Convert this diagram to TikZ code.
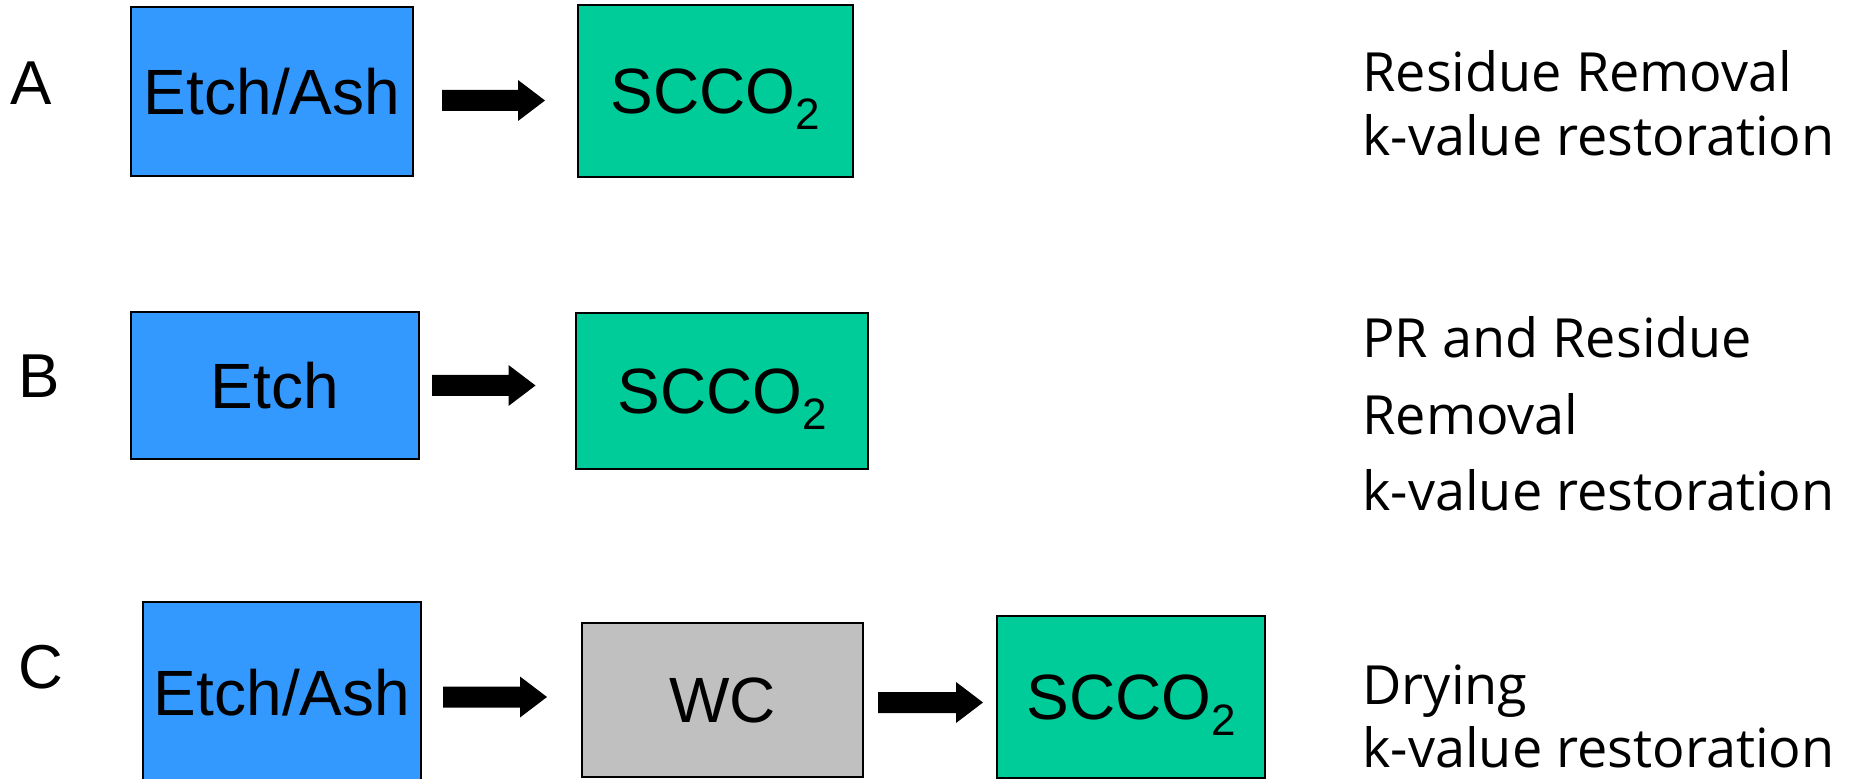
\documentclass[tikz,border=0pt]{standalone}
\usepackage{fontspec}
\setmainfont{Liberation Sans}
\newfontfamily\notefont{Open Sans}
\usetikzlibrary{calc}
\definecolor{etchblue}{HTML}{3399FF}
\definecolor{scgreen}{HTML}{00CC99}
\definecolor{wcgray}{HTML}{C0C0C0}
\newcommand\subtwo{\raisebox{-8.3pt}{\fontsize{22}{22}\selectfont 2}}
\tikzset{
  procbox/.style={draw=black, line width=1pt, inner sep=0pt, text depth=0pt,
    font=\fontsize{32}{38}\selectfont},
  rowlabel/.style={anchor=base, inner sep=0pt, font=\fontsize{31}{37}\selectfont},
  note/.style={anchor=base west, inner sep=0pt, font=\notefont\fontsize{27}{32}\selectfont},
  blockarrow/.style={fill=black},
}
\newcommand\blockarr[2]{%
  \fill[blockarrow] let \p1=(#1), \p2=(#2) in
    (\x1,\y1+5.25pt) -- (\x2-13.5pt,\y1+5.25pt) -- (\x2-13.5pt,\y1+10.25pt) --
    (\x2,\y1) -- (\x2-13.5pt,\y1-10.25pt) -- (\x2-13.5pt,\y1-5.25pt) --
    (\x1,\y1-5.25pt) -- cycle;}
\begin{document}
\begin{tikzpicture}[x=0.5pt,y=-0.5pt]
\fill[white] (0,0) rectangle (1850,779);
\useasboundingbox (0,0) rectangle (1850,779);

% row labels
\node[rowlabel] (labA) at (30.7,105) {A};
\node[rowlabel] (labB) at (39.5,398) {B};
\node[rowlabel] (labC) at (40.7,688) {C};

% row A
\node[procbox, fill=etchblue, minimum width=141pt, minimum height=84.5pt] (a1) at (272,91.5) {Etch/Ash};
\node[procbox, fill=scgreen, minimum width=137.5pt, minimum height=86pt] (a2) at (715.5,91) {SCCO\subtwo};
\coordinate (arA1) at (442,100.5);
\coordinate (arA2) at (545,100.5);
\blockarr{arA1}{arA2}

% row B
\node[procbox, fill=etchblue, minimum width=144pt, minimum height=73.5pt] (b1) at (275,385.5) {Etch};
\node[procbox, fill=scgreen, minimum width=146pt, minimum height=78pt] (b2) at (722,391) {SCCO\subtwo};
\coordinate (arB1) at (432,385.5);
\coordinate (arB2) at (535.5,385.5);
\blockarr{arB1}{arB2}

% row C
\node[procbox, fill=etchblue, minimum width=139pt, minimum height=90pt] (c1) at (282,692) {Etch/Ash};
\node[procbox, fill=wcgray, minimum width=140.5pt, minimum height=77pt] (c2) at (722.5,700) {WC};
\node[procbox, fill=scgreen, minimum width=134pt, minimum height=81pt] (c3) at (1131,697) {SCCO\subtwo};
\coordinate (arC1) at (443,697);
\coordinate (arC2) at (547,697);
\blockarr{arC1}{arC2}
\coordinate (arC3) at (878,702.5);
\coordinate (arC4) at (983,702.5);
\blockarr{arC3}{arC4}

% notes
\node[note] (nA1) at (1362,92) {Residue Removal};
\node[note] (nA2) at (1362,156) {k-value restoration};
\node[note] (nB1) at (1362,358) {PR and Residue};
\node[note] (nB2) at (1362,435) {Removal};
\node[note] (nB3) at (1362,511) {k-value restoration};
\node[note] (nC1) at (1362,704) {Drying};
\node[note] (nC2) at (1362,767) {k-value restoration};
\end{tikzpicture}
\end{document}
